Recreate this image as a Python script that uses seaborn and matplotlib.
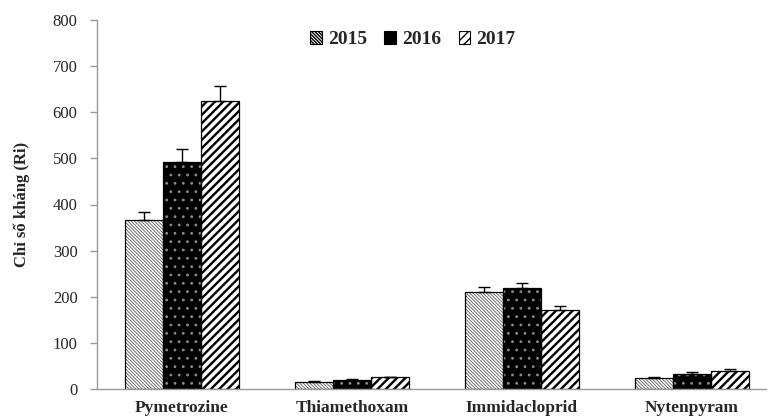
import numpy as np
import pandas as pd
import matplotlib
matplotlib.use("Agg")
import matplotlib.pyplot as plt
from matplotlib.patches import Patch, Rectangle
import seaborn as sns

# Resistance index (Ri) of the brown planthopper to four insecticides
insecticides = ["Pymetrozine", "Thiamethoxam", "Immidacloprid", "Nytenpyram"]
years = ["2015", "2016", "2017"]
ri_2015 = [366, 16, 211, 23]
ri_2016 = [492, 20, 218, 33]
ri_2017 = [624, 25, 171, 39]
err_2015 = [18, 1.5, 10, 2]
err_2016 = [28, 2, 11, 3]
err_2017 = [33, 2, 9, 4]

values = {"2015": ri_2015, "2016": ri_2016, "2017": ri_2017}
errors = {"2015": err_2015, "2016": err_2016, "2017": err_2017}

df = pd.DataFrame(
    [(ins, yr, values[yr][i]) for yr in years for i, ins in enumerate(insecticides)],
    columns=["insecticide", "year", "ri"],
)

sns.set_theme(style="white")
plt.rcParams["font.family"] = ["Liberation Serif", "DejaVu Serif"]

# per-year fill styles: (face, hatch, hatch colour, hatch width)
styles = {
    "2015": ("white", "\\" * 10, "#505050", 0.55),
    "2016": ("black", "..", "#8c8c8c", 0.8),
    "2017": ("white", "////", "black", 1.7),
}

fig = plt.figure(figsize=(7.75, 4.18), dpi=100)
ax = fig.add_axes([97 / 775, 29 / 418, (766 - 97) / 775, 369 / 418])

sns.barplot(data=df, x="insecticide", y="ri", hue="year", order=insecticides,
            hue_order=years, palette=["white", "black", "white"],
            errorbar=None, width=0.67, gap=0, legend=False, ax=ax,
            saturation=1)

for yr, cont in zip(years, ax.containers):
    face, hatch, hcol, hlw = styles[yr]
    xs, tops = [], []
    for bar in cont.patches:
        bar.set_facecolor(face)
        bar.set_edgecolor(hcol)
        bar.set_hatch(hatch)
        bar.set_linewidth(0)
        if hasattr(bar, "set_hatch_linewidth"):
            bar.set_hatch_linewidth(hlw)
        # crisp black outline on top of the hatched fill
        ax.add_patch(Rectangle(bar.get_xy(), bar.get_width(), bar.get_height(),
                               fill=False, edgecolor="black", linewidth=0.9,
                               zorder=bar.get_zorder() + 0.1))
        xs.append(bar.get_x() + bar.get_width() / 2)
        tops.append(bar.get_height())
    err = np.array(errors[yr])
    ax.errorbar(xs, tops, yerr=[np.zeros_like(err), err], fmt="none",
                ecolor="black", elinewidth=1, capsize=4, capthick=1, zorder=5)

ax.set_ylim(0, 800)
ax.set_yticks(range(0, 801, 100))
ax.set_xlim(-0.5, (766 - 97) / 170 - 0.5)
ax.set_xticks(range(len(insecticides)))
ax.set_xticklabels(insecticides, fontsize=12.5, fontweight="bold")
ax.set_xticks([0.5, 1.5, 2.5], minor=True)
ax.tick_params(axis="x", which="major", length=0, pad=8)
ax.tick_params(axis="x", which="minor", length=5, width=1, color="#999999",
               direction="out")
ax.tick_params(axis="y", length=5, width=1, color="#999999", direction="out",
               labelsize=12, pad=9, left=True)
ax.set_xlabel("")
ax.set_ylabel("Chỉ số kháng (Ri)", fontsize=12, fontweight="bold", labelpad=16)

for side in ("top", "right"):
    ax.spines[side].set_visible(False)
for side in ("left", "bottom"):
    ax.spines[side].set_color("#999999")
    ax.spines[side].set_linewidth(1)

handles = []
for yr in years:
    face, hatch, hcol, hlw = styles[yr]
    handles.append(Patch(facecolor=face, edgecolor="black", hatch=hatch, linewidth=0.8))
ax.legend(handles, years, loc="center", bbox_to_anchor=(0.472, 0.946), ncol=3,
          frameon=False, prop={"weight": "bold", "size": 14},
          handlelength=0.6, handleheight=0.6, handletextpad=0.3, columnspacing=0.9)

fig.savefig("out.png", dpi=100, facecolor="white")
